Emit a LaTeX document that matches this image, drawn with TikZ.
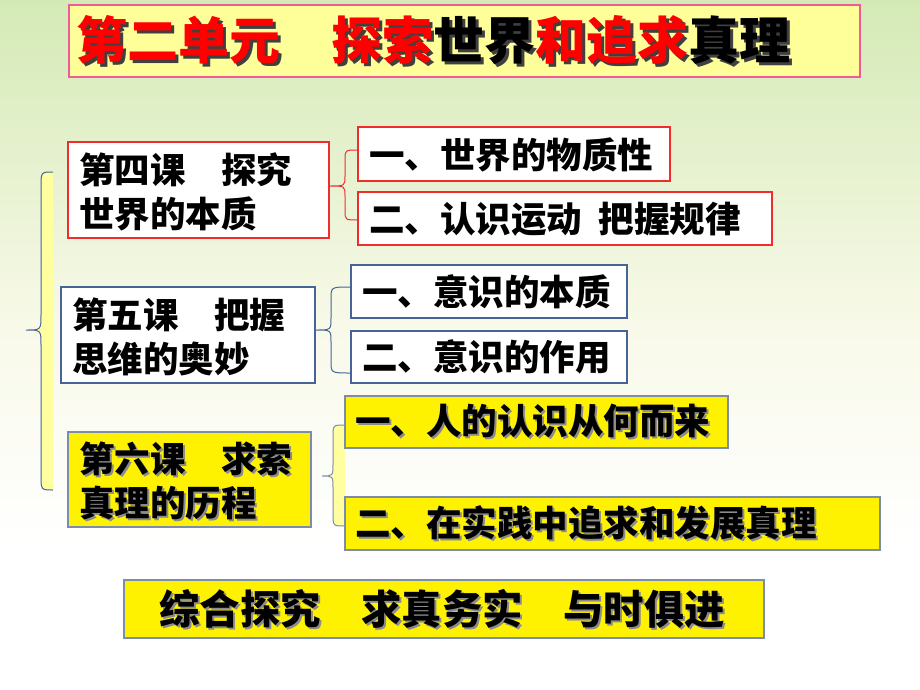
\documentclass[tikz,border=0pt]{standalone}
\usepackage{fontspec}
\newfontfamily\cjk{Noto Sans CJK SC}
\definecolor{tred}{RGB}{255,0,0}
\definecolor{redline}{RGB}{240,45,45}
\definecolor{blueline}{RGB}{70,100,150}
\definecolor{grayline}{RGB}{125,140,170}
\definecolor{titlefill}{RGB}{255,255,153}
\definecolor{titleline}{RGB}{240,90,150}
\definecolor{paleyellow}{RGB}{255,255,160}
\definecolor{bgtop}{RGB}{212,234,182}
\definecolor{bgcream}{RGB}{248,249,232}
\newcommand\shadowline[3]{\makebox[0pt][l]{\kern#1\raisebox{-#1}{\color{#2}#3}}#3}
\begin{document}
\begin{tikzpicture}[x=1pt,y=-1pt,
  every node/.style={inner sep=0pt, outer sep=0pt},
  boxr/.style={draw=redline, line width=1.3pt, fill=white, anchor=north west},
  boxb/.style={draw=blueline, line width=1.2pt, fill=white, anchor=north west},
  boxy/.style={draw=grayline, line width=1.2pt, fill=yellow, anchor=north west},
  lesson/.style={font=\cjk\bfseries\fontsize{35.5}{44}\selectfont, align=left, anchor=west},
  bigtext/.style={font=\cjk\bfseries\fontsize{40.4}{48}\selectfont, anchor=center},
  titletext/.style={font=\cjk\bfseries\fontsize{51}{60}\selectfont, anchor=west},
  brace/.style={line width=1pt}
]
\useasboundingbox (0,0) rectangle (920,690);
% background: green at the top fading to cream, then white at the bottom
\fill[white] (0,0) rectangle (920,690);
\foreach \i in {0,...,63} {
  \pgfmathsetmacro\mixa{max(0,100*(1-\i*5/320))}
  \fill[bgtop!\mixa!bgcream] (0,\i*5) rectangle (920,\i*5+5.6);
}
\foreach \i in {0,...,73} {
  \pgfmathsetmacro\mixb{max(0,100*(1-\i*5/220))}
  \fill[bgcream!\mixb!white] (0,320+\i*5) rectangle (920,320+\i*5+5.6);
}

% title
\node[draw=titleline, line width=1.3pt, fill=titlefill, anchor=north west,
      minimum width=791pt, minimum height=72pt] (title) at (69,5) {};
\node[titletext] (titletext) at (76,42) {\makebox[0pt][l]{\kern3pt\raisebox{-3pt}{\color{black!75}第二单元　探索世界和追求真理}}\textcolor{tred}{第二单元　探索}世界\textcolor{tred}{和追求}真理};

% big left brace
\fill[paleyellow] (53,172) .. controls (41,172) .. (41,187) -- (41,315)
  .. controls (41,330) .. (26,330) .. controls (41,330) .. (41,345) -- (41,475)
  .. controls (41,490) .. (53,490) -- cycle;
\draw[brace, draw=blueline] (53,172) .. controls (41,172) .. (41,187) -- (41,315)
  .. controls (41,330) .. (26,330) .. controls (41,330) .. (41,345) -- (41,475)
  .. controls (41,490) .. (53,490);

% lesson 4
\node[boxr, minimum width=261pt, minimum height=96pt] (b4) at (68,142) {};
\node[lesson] (b4t) at (79,192) {第四课　探究\\世界的本质};
\node[boxr, minimum width=312pt, minimum height=54pt] (s41) at (358,127) {};
\node[lesson] (s41t) at (369,155) {一、世界的物质性};
\node[boxr, minimum width=414pt, minimum height=53pt] (s42) at (358,192) {};
\node[lesson] (s42t) at (369,219) {二、认识运动\hspace{17pt}把握规律};
\draw[brace, draw=redline] (358,150) .. controls (345,150) .. (345,160) -- (345,176)
  .. controls (345,186) .. (330,186) .. controls (345,186) .. (345,196) -- (345,210)
  .. controls (345,220) .. (358,220);

% lesson 5
\node[boxb, minimum width=254pt, minimum height=96pt] (b5) at (61,287) {};
\node[lesson] (b5t) at (72,337) {第五课　把握\\思维的奥妙};
\node[boxb, minimum width=276pt, minimum height=53pt] (s51) at (351,265) {};
\node[lesson] (s51t) at (362,292) {一、意识的本质};
\node[boxb, minimum width=276pt, minimum height=52pt] (s52) at (351,331) {};
\node[lesson] (s52t) at (362,357) {二、意识的作用};
\draw[brace, draw=blueline] (350,287) .. controls (331,287) .. (331,299) -- (331,318)
  .. controls (331,330) .. (316,330) .. controls (331,330) .. (331,342) -- (331,361)
  .. controls (331,373) .. (350,373);

% lesson 6
\node[boxy, minimum width=243pt, minimum height=95pt] (b6) at (68,432) {};
\node[lesson] (b6t) at (79,482) {\shadowline{2pt}{black!45}{第六课　求索}\\\shadowline{2pt}{black!45}{真理的历程}};
\fill[paleyellow] (345,425) .. controls (333,425) .. (333,437) -- (333,464)
  .. controls (333,476) .. (322,476) .. controls (333,476) .. (333,488) -- (333,514)
  .. controls (333,526) .. (345,526) -- cycle;
\draw[brace, draw=grayline] (345,425) .. controls (333,425) .. (333,437) -- (333,464)
  .. controls (333,476) .. (322,476) .. controls (333,476) .. (333,488) -- (333,514)
  .. controls (333,526) .. (345,526);
\node[boxy, minimum width=383pt, minimum height=52pt] (s61) at (345,396) {};
\node[lesson] (s61t) at (355,422) {\shadowline{2pt}{black!45}{一、人的认识从何而来}};
\node[boxy, minimum width=535pt, minimum height=53pt] (s62) at (345,497) {};
\node[lesson] (s62t) at (355,524) {\shadowline{2pt}{black!45}{二、在实践中追求和发展真理}};

% bottom
\node[boxy, minimum width=640pt, minimum height=58pt] (bot) at (124,580) {};
\node[bigtext] (bott) at (442,610) {\shadowline{2pt}{black!45}{综合探究　求真务实　与时俱进}};
\end{tikzpicture}
\end{document}
